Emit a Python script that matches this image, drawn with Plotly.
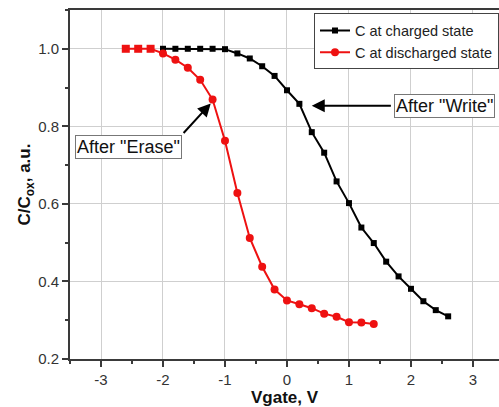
import plotly.graph_objects as go

# Charged state (black squares)
v_charged = [-2.0, -1.8, -1.6, -1.4, -1.2, -1.0, -0.8, -0.6, -0.4, -0.2, 0.0,
             0.2, 0.4, 0.6, 0.8, 1.0, 1.2, 1.4, 1.6, 1.8, 2.0, 2.2, 2.4, 2.6]
c_charged = [1.0, 1.0, 1.0, 1.0, 1.0, 0.999, 0.988, 0.975, 0.955, 0.93, 0.893,
             0.858, 0.785, 0.732, 0.658, 0.602, 0.539, 0.499, 0.451, 0.413,
             0.381, 0.349, 0.326, 0.31]

# Discharged state (red circles), listed from the positive end of the sweep
v_dis = [1.4, 1.2, 1.0, 0.8, 0.6, 0.4, 0.2, 0.0, -0.2, -0.4, -0.6, -0.8,
         -1.0, -1.2, -1.4, -1.6, -1.8, -2.0, -2.2, -2.4, -2.6]
c_dis = [0.29, 0.294, 0.295, 0.309, 0.317, 0.331, 0.341, 0.351, 0.379, 0.438,
         0.512, 0.628, 0.763, 0.869, 0.92, 0.951, 0.972, 0.988, 1.0, 1.0, 1.0]

x_ticks = [-3, -2, -1, 0, 1, 2, 3]
y_ticks = [0.2, 0.4, 0.6, 0.8, 1.0]
y_tick_labels = ["0.2", "0.4", "0.6", "0.8", "1.0"]

FONT = "Arial, Liberation Sans, sans-serif"
AX = "#3a3a3a"
RED = "#ee1111"

fig = go.Figure()
fig.add_trace(go.Scatter(
    x=v_charged, y=c_charged, mode="lines+markers", name="C at charged state",
    line=dict(color="black", width=2),
    marker=dict(symbol="square", size=6, color="black"),
))
dis_symbols = ["circle"] * (len(v_dis) - 3) + ["square"] * 3
fig.add_trace(go.Scatter(
    x=v_dis, y=c_dis, mode="lines+markers", name="C at discharged state",
    line=dict(color=RED, width=2),
    marker=dict(symbol=dis_symbols, size=8, color=RED),
))

XR = [-3.5, 3.42]
YR = [0.2, 1.1]

fig.update_layout(
    width=499, height=407,
    margin=dict(l=70, r=0, t=10, b=48),
    paper_bgcolor="white", plot_bgcolor="white",
    font=dict(family=FONT, color="#333", size=15),
    showlegend=True,
    legend=dict(
        x=(314 - 70) / 429, y=0.99, xanchor="left", yanchor="top",
        bgcolor="white", bordercolor="#444", borderwidth=1,
        font=dict(size=14.5, color="#222"),
        tracegroupgap=0, itemwidth=30,
    ),
    xaxis=dict(
        range=XR, tickvals=x_ticks, ticktext=[str(v) for v in x_ticks],
        showgrid=True, gridcolor="#cfcfcf", gridwidth=1, zeroline=False,
        showline=True, linecolor=AX, linewidth=2, mirror=True,
        ticks="outside", ticklen=6, tickwidth=1.5, tickcolor=AX,
        minor=dict(dtick=0.5, tick0=0, ticks="outside", ticklen=3, tickcolor=AX, showgrid=False),
        tickfont=dict(size=15, color="#333"),
        title=dict(text="<b>Vgate, V</b>", font=dict(size=17, color="#111"), standoff=4),
    ),
    yaxis=dict(
        range=YR, tickvals=y_ticks, ticktext=y_tick_labels,
        showgrid=True, gridcolor="#cfcfcf", gridwidth=1, zeroline=False,
        showline=True, linecolor=AX, linewidth=2, mirror=False,
        ticks="outside", ticklen=6, tickwidth=1.5, tickcolor=AX,
        minor=dict(dtick=0.1, tick0=0, ticks="outside", ticklen=3, tickcolor=AX, showgrid=False),
        tickfont=dict(size=15, color="#333"),
        title=dict(text="<b>C/C<sub>ox</sub>, a.u.</b>", font=dict(size=17, color="#111"), standoff=3),
    ),
    xaxis2=dict(
        overlaying="x", side="top", anchor="y", range=XR, tickvals=x_ticks,
        showticklabels=False, showgrid=False, zeroline=False, showline=False,
        ticks="inside", ticklen=5, tickwidth=1.5, tickcolor=AX,
        minor=dict(dtick=0.5, tick0=0, ticks="inside", ticklen=3, tickcolor=AX),
    ),
    yaxis2=dict(
        overlaying="y", side="right", anchor="x", range=YR, tickvals=y_ticks,
        showticklabels=False, showgrid=False, zeroline=False, showline=False,
        ticks="inside", ticklen=5, tickwidth=1.5, tickcolor=AX,
        minor=dict(dtick=0.1, tick0=0, ticks="inside", ticklen=3, tickcolor=AX),
    ),
)

# legend shadow (legend box itself is drawn on top)
fig.add_shape(type="rect", xref="paper", yref="paper",
              x0=(318 - 70) / 429, x1=1.05, y0=1 - (66 - 10) / 349, y1=1 - (17 - 10) / 349,
              fillcolor="black", line=dict(width=0), layer="above")

# Arrow annotations
fig.add_annotation(x=-1.23, y=0.859, ax=-1.69, ay=0.779, xref="x", yref="y",
                   axref="x", ayref="y", text="", showarrow=True,
                   arrowhead=2, arrowsize=1.3, arrowwidth=2, arrowcolor="black")
fig.add_annotation(x=-2.56, y=0.746, xref="x", yref="y", text='After "Erase"',
                   showarrow=False, font=dict(size=18, color="#111", family=FONT),
                   bgcolor="white", bordercolor="#777", borderwidth=1, borderpad=1)
fig.add_annotation(x=0.40, y=0.853, ax=1.70, ay=0.853, xref="x", yref="y",
                   axref="x", ayref="y", text="", showarrow=True,
                   arrowhead=2, arrowsize=1.3, arrowwidth=2, arrowcolor="black")
fig.add_annotation(x=2.54, y=0.853, xref="x", yref="y", text='After "Write"',
                   showarrow=False, font=dict(size=18, color="#111", family=FONT),
                   bgcolor="white", bordercolor="#777", borderwidth=1, borderpad=1)

fig.write_html("out.html")
